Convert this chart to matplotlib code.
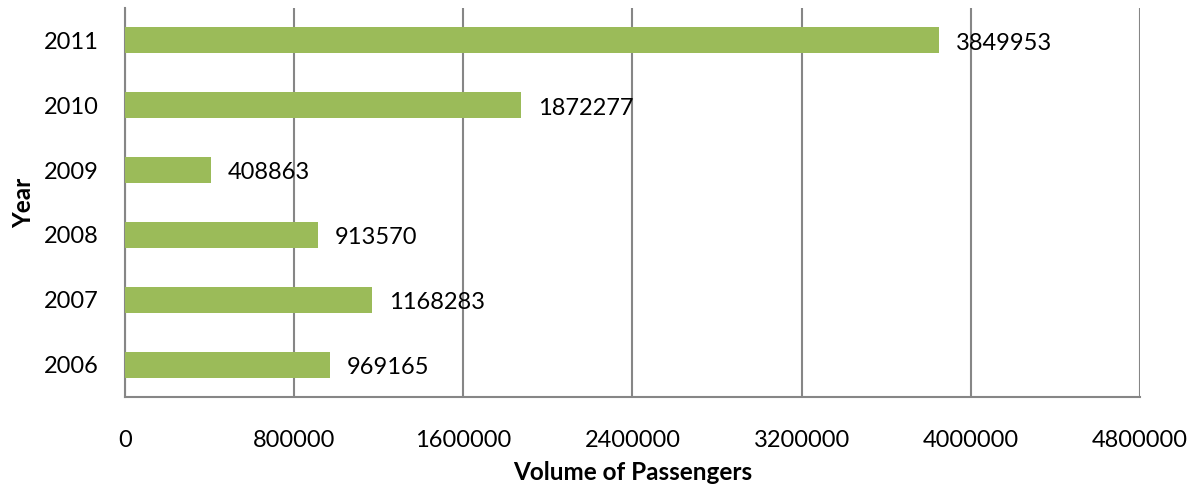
import matplotlib.pyplot as plt

# passengers per year
years = ["2006", "2007", "2008", "2009", "2010", "2011"]
passengers = [969165, 1168283, 913570, 408863, 1872277, 3849953]
xticks = [0, 800000, 1600000, 2400000, 3200000, 4000000, 4800000]

plt.rcParams['font.family'] = ['Lato', 'DejaVu Sans']

fig = plt.figure(figsize=(11.98, 4.88), dpi=100)
ax = fig.add_axes([0.1043, 0.1865, 0.8473, 0.797])

bars = ax.barh(years, passengers, height=0.4, color="#9BBB59", zorder=3)
for b, v in zip(bars, passengers):
    ax.annotate(str(v), (b.get_width(), b.get_y() + b.get_height() / 2),
                xytext=(12, -2), textcoords="offset points",
                va="center", ha="left", fontsize=17, zorder=4)

ax.set_xlim(0, 4800000)
ax.set_ylim(-0.5, 5.5)
ax.set_xticks(xticks)
ax.set_xticklabels([str(t) for t in xticks])
ax.xaxis.grid(True, color="#868686", linewidth=1.5, zorder=0)
ax.tick_params(axis="both", length=0, labelsize=17)
ax.tick_params(axis="x", pad=24)
ax.tick_params(axis="y", pad=19)

for s in ["top", "right"]:
    ax.spines[s].set_visible(False)
for s in ["left", "bottom"]:
    ax.spines[s].set_color("#868686")
    ax.spines[s].set_linewidth(1.5)

ax.set_xlabel("Volume of Passengers", fontsize=17.5, fontweight="bold", va="center")
ax.xaxis.set_label_coords(0.5, -0.195)
ax.set_ylabel("Year", fontsize=17.5, fontweight="bold", va="center")
ax.yaxis.set_label_coords(-0.1, 0.5)

fig.savefig("out.png", dpi=100)
